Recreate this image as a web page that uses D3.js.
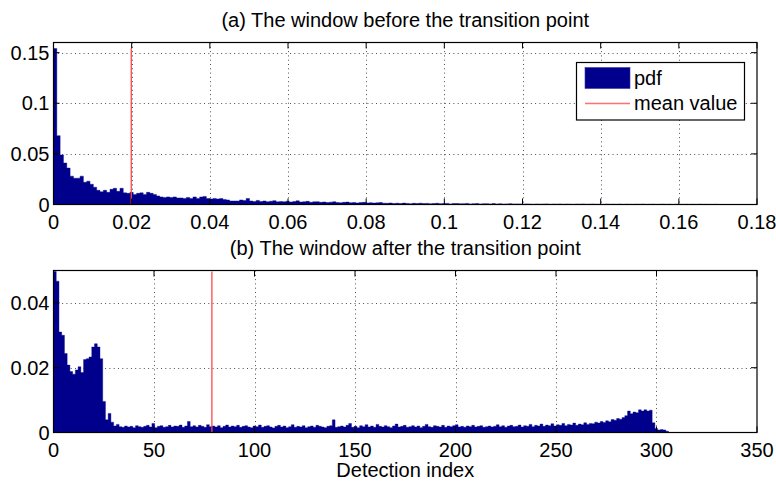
<!DOCTYPE html>
<html>
<head>
<meta charset="utf-8">
<script src="https://cdn.jsdelivr.net/npm/d3@7"></script>
<style>
  body { margin: 0; background: #fff; }
  svg text { font-family: "Liberation Sans", Arial, Helvetica, sans-serif; fill: #000; }
</style>
</head>
<body>
<div id="chart"></div>
<script>
// (a) pdf of the window before the transition point, bin width 0.00085
const binWidthA = 0.00085
const pdfA = [
  0.154, 0.068, 0.049, 0.041, 0.036, 0.028, 0.026, 0.026, 0.028, 0.022,
  0.023, 0.020, 0.017, 0.014, 0.0125, 0.014, 0.012, 0.015, 0.016, 0.013,
  0.016, 0.0115, 0.011, 0.012,
  0.010, 0.011, 0.0115, 0.010, 0.012, 0.011, 0.010, 0.0085, 0.0075, 0.007,
  0.0075, 0.007, 0.0075, 0.0065, 0.0065, 0.006, 0.007, 0.006, 0.0075, 0.006,
  0.0075, 0.008, 0.006, 0.0055, 0.006, 0.0055, 0.006, 0.005, 0.0045, 0.0035,
  0.0035, 0.0035, 0.0045, 0.004, 0.006, 0.0035, 0.003,
  0.0040, 0.0030, 0.0035, 0.0028, 0.0032, 0.0038, 0.0026, 0.0030, 0.0027, 0.0033,
  0.0025, 0.0029, 0.0036, 0.0024, 0.0027, 0.0031, 0.0022, 0.0026, 0.0028, 0.0021,
  0.0025, 0.0019, 0.0023, 0.0027, 0.0020, 0.0018, 0.0022, 0.0024, 0.0017, 0.0020,
  0.0016, 0.0019, 0.0021, 0.0015, 0.0018, 0.0014, 0.0017, 0.0020, 0.0013,
  0.0012, 0.0015, 0.0010, 0.0013, 0.0009, 0.0014, 0.0011, 0.0008, 0.0012, 0.0010,
  0.0013, 0.0009, 0.0011, 0.0007, 0.0010, 0.0012, 0.0008, 0.0009, 0.0011, 0.0006,
  0.0009, 0.0010, 0.0007, 0.0008, 0.0011, 0.0006, 0.0008, 0.0009, 0.0005, 0.0007,
  0.0008, 0.0006, 0.0009, 0.0005, 0.0007, 0.0004, 0.0006, 0.0008, 0.0005, 0.0006,
  0.0005, 0.0003, 0.0006, 0.0004, 0.0002, 0.0005, 0.0003, 0.0004, 0.0006, 0.0002,
  0.0004, 0.0003, 0.0005, 0.0002, 0.0004, 0.0003, 0.0001, 0.0004, 0.0003, 0.0005,
  0.0002, 0.0003, 0.0004, 0.0002, 0.0003, 0.0001, 0.0004, 0.0002, 0.0003, 0.0002,
  0.0004, 0.0001, 0.0003, 0.0002, 0.0001, 0.0003, 0.0002, 0.0004, 0.0001, 0.0002,
  0.0003, 0.0001, 0.0002, 0.0003, 0.0001, 0.0002, 0.0001, 0.0003, 0.0002, 0.0001,
  0.0002, 0.0001, 0.0002, 0.0001, 0.0003, 0.0001, 0.0002, 0.0001, 0.0001, 0.0002
]
const meanA = 0.0199
const xTicksA = [0, 0.02, 0.04, 0.06, 0.08, 0.1, 0.12, 0.14, 0.16, 0.18]
const yTicksA = [0, 0.05, 0.1, 0.15]

// (b) pdf of the window after the transition point, bin width 1.36 detections
const binWidthB = 1.36
const pdfB = [
  0.0497, 0.0467, 0.0310, 0.0300, 0.0244, 0.0208, 0.0188, 0.0180, 0.0193, 0.0203,
  0.0185, 0.0225, 0.0228, 0.0233, 0.0264, 0.0274, 0.0264, 0.0228, 0.0096, 0.0039,
  0.0059, 0.0032, 0.0020, 0.0025, 0.0018, 0.0016, 0.0020, 0.0017, 0.0019, 0.0015,
  0.0021, 0.0018, 0.0016, 0.0019, 0.0022, 0.0017, 0.0028, 0.0015, 0.0019, 0.0021,
  0.0016, 0.0018, 0.0022, 0.0017, 0.0020, 0.0019, 0.0023, 0.0016, 0.0020, 0.0034,
  0.0018, 0.0021, 0.0017, 0.0022, 0.0019, 0.0016, 0.0024, 0.0018, 0.0020, 0.0017,
  0.0021, 0.0015, 0.0019, 0.0023, 0.0017, 0.0020, 0.0018, 0.0022, 0.0016, 0.0019,
  0.0021, 0.0017, 0.0015, 0.0020, 0.0018, 0.0023, 0.0016, 0.0019, 0.0021, 0.0017,
  0.0014, 0.0019, 0.0022, 0.0017, 0.0020, 0.0015, 0.0018, 0.0024, 0.0016, 0.0019,
  0.0017, 0.0021, 0.0015, 0.0018, 0.0020, 0.0016, 0.0022, 0.0019, 0.0017, 0.0015,
  0.0019, 0.0021, 0.0039, 0.0016, 0.0018, 0.0020, 0.0017, 0.0022, 0.0028, 0.0016,
  0.0019, 0.0015, 0.0021, 0.0018, 0.0024, 0.0017, 0.0020, 0.0016, 0.0025, 0.0019,
  0.0017, 0.0021, 0.0018, 0.0015, 0.0020, 0.0026, 0.0017, 0.0019, 0.0022, 0.0016,
  0.0018, 0.0021, 0.0017, 0.0020, 0.0015, 0.0019, 0.0025, 0.0018, 0.0016, 0.0021,
  0.0019, 0.0017, 0.0022, 0.0016, 0.0020, 0.0018, 0.0021, 0.0024, 0.0017, 0.0019,
  0.0016, 0.0020, 0.0018, 0.0022, 0.0017, 0.0019, 0.0021, 0.0016, 0.0018, 0.0020,
  0.0017, 0.0019, 0.0024, 0.0018, 0.0021, 0.0016, 0.0020, 0.0022, 0.0018, 0.0019,
  0.0023, 0.0017, 0.0021, 0.0019, 0.0025, 0.0018, 0.0022, 0.0020, 0.0026, 0.0019,
  0.0023, 0.0021, 0.0027, 0.0020, 0.0024, 0.0022, 0.0028, 0.0021, 0.0025, 0.0023,
  0.0029, 0.0022, 0.0026, 0.0024, 0.0030, 0.0025, 0.0028, 0.0027, 0.0032, 0.0029,
  0.0034, 0.0031, 0.0036, 0.0033, 0.0040, 0.0038, 0.0043, 0.0041, 0.0046, 0.0052,
  0.0066, 0.0058, 0.0063, 0.0061, 0.0070, 0.0066, 0.0070, 0.0066, 0.0069, 0.0030,
  0.0012, 0.0008, 0.0009, 0.0008, 0.0004
]
const meanB = 78.8
const xTicksB = [0, 50, 100, 150, 200, 250, 300, 350]
const yTicksB = [0, 0.02, 0.04]

const barColor = '#00008c'
const meanColor = '#ff4747'

const width = 776, height = 481
const svg = d3.select('#chart').append('svg')
    .attr('width', width)
    .attr('height', height)

function drawPanel(cfg) {
    const x = d3.scaleLinear().domain(cfg.xDomain).range([cfg.left, cfg.right])
    const y = d3.scaleLinear().domain(cfg.yDomain).range([cfg.bottom, cfg.top])
    const g = svg.append('g')
    const tick = 6

    // dotted grid
    const grid = g.append('g')
        .attr('stroke', '#222')
        .attr('stroke-width', 0.8)
        .attr('stroke-dasharray', '1,3.3')
    grid.selectAll('line.v').data(cfg.xTicks.slice(1, -1))
        .enter().append('line')
        .attr('x1', d => Math.round(x(d)) + 0.5).attr('x2', d => Math.round(x(d)) + 0.5)
        .attr('y1', cfg.top).attr('y2', cfg.bottom)
    grid.selectAll('line.h').data(cfg.yTicks.filter(d => d > cfg.yDomain[0] && d < cfg.yDomain[1]))
        .enter().append('line')
        .attr('x1', cfg.left).attr('x2', cfg.right)
        .attr('y1', d => Math.round(y(d)) + 0.5).attr('y2', d => Math.round(y(d)) + 0.5)

    // histogram drawn as one stepped area so neighbouring bins don't leave seams
    const steps = cfg.values.map((v, i) => ({ x0: i * cfg.binWidth, v: Math.min(v, cfg.yDomain[1]) }))
    steps.push({ x0: cfg.values.length * cfg.binWidth, v: 0 })
    const area = d3.area()
        .curve(d3.curveStepAfter)
        .x(d => x(d.x0))
        .y0(y(0))
        .y1(d => y(d.v))
    g.append('path')
        .datum(steps)
        .attr('d', area)
        .attr('fill', barColor)
        .attr('stroke', barColor)
        .attr('stroke-width', 0.4)

    // mean value line
    g.append('line')
        .attr('x1', x(cfg.mean)).attr('x2', x(cfg.mean))
        .attr('y1', y(0)).attr('y2', y(Math.min(d3.max(cfg.values), cfg.yDomain[1])))
        .attr('stroke', meanColor)
        .attr('stroke-width', 1.3)

    // box + inward ticks
    g.append('rect')
        .attr('x', cfg.left).attr('y', cfg.top)
        .attr('width', cfg.right - cfg.left).attr('height', cfg.bottom - cfg.top)
        .attr('fill', 'none').attr('stroke', '#000').attr('stroke-width', 1.2)

    const ticks = g.append('g').attr('stroke', '#000').attr('stroke-width', 1)
    cfg.xTicks.forEach(t => {
        const px = x(t)
        ticks.append('line').attr('x1', px).attr('x2', px).attr('y1', cfg.bottom).attr('y2', cfg.bottom - tick)
        ticks.append('line').attr('x1', px).attr('x2', px).attr('y1', cfg.top).attr('y2', cfg.top + tick)
    })
    cfg.yTicks.forEach(t => {
        const py = y(t)
        ticks.append('line').attr('x1', cfg.left).attr('x2', cfg.left + tick).attr('y1', py).attr('y2', py)
        ticks.append('line').attr('x1', cfg.right).attr('x2', cfg.right - tick).attr('y1', py).attr('y2', py)
    })

    // tick labels
    g.selectAll('text.xt').data(cfg.xTicks)
        .enter().append('text')
        .attr('x', d => x(d))
        .attr('y', cfg.bottom + 24)
        .attr('text-anchor', 'middle')
        .attr('font-size', 20)
        .text(d => d3.format('')(d))
    g.selectAll('text.yt').data(cfg.yTicks)
        .enter().append('text')
        .attr('x', cfg.left - 4)
        .attr('y', d => y(d) + 7)
        .attr('text-anchor', 'end')
        .attr('font-size', 20)
        .text(d => d3.format('')(d))

    g.append('text')
        .attr('x', (cfg.left + cfg.right) / 2)
        .attr('y', cfg.top - 15.5)
        .attr('text-anchor', 'middle')
        .attr('font-size', 20)
        .text(cfg.title)

    if (cfg.xLabel) {
        g.append('text')
            .attr('x', (cfg.left + cfg.right) / 2)
            .attr('y', cfg.bottom + 44)
            .attr('text-anchor', 'middle')
            .attr('font-size', 20)
            .text(cfg.xLabel)
    }
    return g
}

drawPanel({
    values: pdfA, binWidth: binWidthA, mean: meanA,
    xDomain: [0, 0.18], yDomain: [0, 0.16],
    xTicks: xTicksA, yTicks: yTicksA,
    left: 53.5, right: 757, top: 42.5, bottom: 204.5,
    title: '(a) The window before the transition point'
})

drawPanel({
    values: pdfB, binWidth: binWidthB, mean: meanB,
    xDomain: [0, 350], yDomain: [0, 0.05],
    xTicks: xTicksB, yTicks: yTicksB,
    left: 53.5, right: 757, top: 270.5, bottom: 432.5,
    title: '(b) The window after the transition point',
    xLabel: 'Detection index'
})

// legend in panel (a)
const legend = svg.append('g').attr('transform', 'translate(576.5,62.5)')
legend.append('rect')
    .attr('width', 168).attr('height', 57.5)
    .attr('fill', '#fff').attr('stroke', '#000').attr('stroke-width', 1.2)
legend.append('rect')
    .attr('x', 8.5).attr('y', 5).attr('width', 45).attr('height', 21)
    .attr('fill', barColor).attr('stroke', '#3535a5').attr('stroke-width', 0.6)
legend.append('line')
    .attr('x1', 8.5).attr('x2', 53.5).attr('y1', 41).attr('y2', 41)
    .attr('stroke', '#ff7070').attr('stroke-width', 1.6)
legend.append('text').attr('x', 57.5).attr('y', 22.5).attr('font-size', 20).text('pdf')
legend.append('text').attr('x', 57.5).attr('y', 47.5).attr('font-size', 20).text('mean value')
</script>
</body>
</html>
